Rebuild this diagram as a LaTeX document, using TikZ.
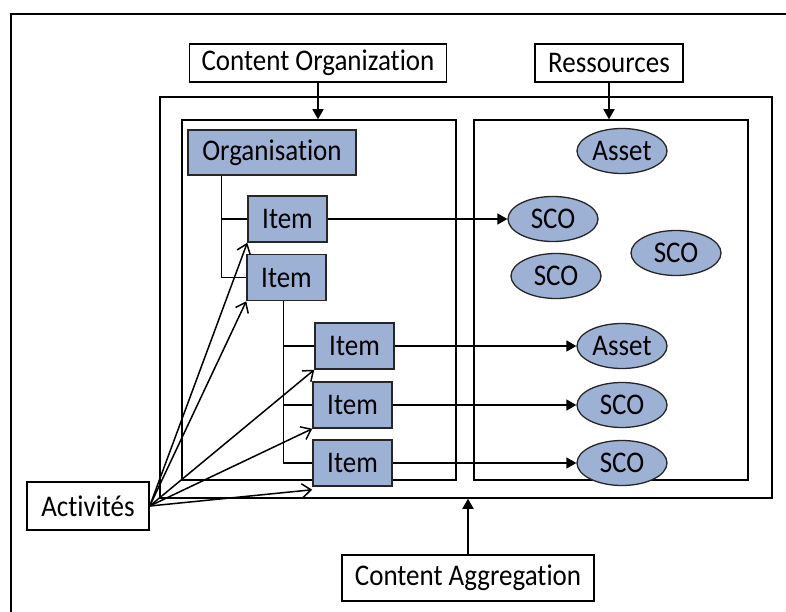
\documentclass[tikz,border=0pt]{standalone}
\usepackage{fontspec}
\setmainfont{Carlito}[FakeStretch=0.9, Ligatures=CommonOff]
\usepackage{xcolor}
\usetikzlibrary{shapes,arrows.meta,positioning,calc}

\definecolor{partblue}{RGB}{157,177,213}

\tikzset{
    labelbox/.style={draw, line width=1.5pt, fill=white, inner sep=0pt},
    container/.style={draw, line width=1.5pt, inner sep=0pt},
    itembox/.style={draw=black!85, line width=1.5pt, fill=partblue, inner sep=0pt, minimum width=79pt, minimum height=46pt},
    resnode/.style={ellipse, draw=black!85, line width=1.3pt, fill=partblue, inner sep=0pt, minimum width=90pt, minimum height=45pt},
    tree/.style={line width=1.5pt},
    link/.style={line width=1.5pt, -{Triangle[length=10pt, width=11pt]}},
    act/.style={line width=1.5pt, -{Straight Barb[length=9pt, width=14pt]}},
}

\begin{document}
\begin{tikzpicture}[x=1pt, y=-1pt, font=\fontsize{30}{34}\selectfont]

\useasboundingbox (0,0) rectangle (786,612);

% Frame
\draw[line width=1.3pt] (11,612) -- (11,14) -- (786,14);

% Containers
\node[container, minimum width=612pt, minimum height=401pt] (agg) at (466,297.5) {};
\node[container, minimum width=274pt, minimum height=360pt] (orgarea) at (319,300) {};
\node[container, minimum width=274pt, minimum height=360pt] (resarea) at (611,300) {};

% Labels
\node[labelbox, minimum width=257pt, minimum height=38pt] (corg) at (318,63) {Content Organization};
\node[labelbox, minimum width=148pt, minimum height=38pt] (ress) at (609,63) {Ressources};
\node[labelbox, minimum width=122pt, minimum height=48pt] (activ) at (88,506) {Activités};
\node[labelbox, minimum width=252pt, minimum height=46pt] (cagg) at (468,578) {Content Aggregation};

% Organisation tree
\node[itembox, minimum width=168pt, minimum height=45pt] (org) at (272,152.5) {Organisation};
\node[itembox] (item1) at (287.5,219) {Item};
\node[itembox] (item2) at (286.5,277.5) {Item};
\node[itembox] (item3) at (354.5,346) {Item};
\node[itembox] (item4) at (352.5,405) {Item};
\node[itembox] (item5) at (352.5,463) {Item};

% Resources
\node[resnode] (asset1) at (622,151) {Asset};
\node[resnode] (sco1) at (553,219) {SCO};
\node[resnode] (sco2) at (556,276) {SCO};
\node[resnode] (sco3) at (676,253) {SCO};
\node[resnode] (asset2) at (622,346) {Asset};
\node[resnode] (sco4) at (622,405) {SCO};
\node[resnode] (sco5) at (622,463) {SCO};

% Tree lines
\coordinate (orgstem) at ([xshift=34pt]org.south west);
\coordinate (itemstem) at ([xshift=-3pt]item2.south);
\draw[tree] (orgstem) |- (item2.west);
\draw[tree] (orgstem |- item1.west) -- (item1.west);
\foreach \n in {item3,item4}
    \draw[tree] (itemstem |- \n.west) -- (\n.west);
\draw[tree] (itemstem) |- (item5.west);

% Connections
\draw[link] (corg.south) -- (corg.south |- orgarea.north);
\draw[link] (ress.south) -- (ress.south |- resarea.north);
\draw[link] (cagg.north) -- (cagg.north |- agg.south);
\draw[link] (item1.east) -- (sco1.west);
\draw[link] (item3.east) -- (asset2.west);
\draw[link] (item4.east) -- (sco4.west);
\draw[link] (item5.east) -- (sco5.west);

% Activities
\foreach \n in {item1,item2,item3,item4}
    \draw[act] (activ.east) -- (\n.south west);
\draw[act] (activ.east) -- ([yshift=-3pt]item5.south west);

\end{tikzpicture}
\end{document}
